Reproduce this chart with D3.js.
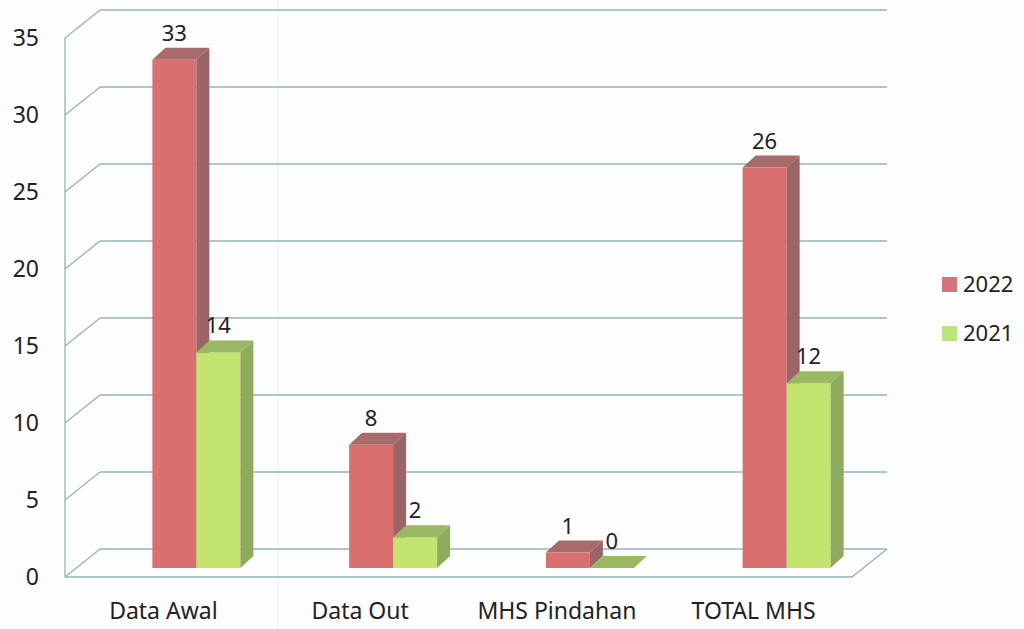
<!DOCTYPE html>
<html>
<head>
	<meta charset="utf-8">
	<title>Data Mahasiswa</title>
	<script src="https://d3js.org/d3.v7.min.js"></script>
	<style>
		body { margin: 0; background: #fdfdfd; }
		text { font-family: "Noto Sans", "Open Sans", sans-serif; fill: #222; }
	</style>
</head>
<body>
<script>
	// data
	var categories = ["Data Awal", "Data Out", "MHS Pindahan", "TOTAL MHS"];
	var series = ["2022", "2021"];
	var values2022 = [33, 8, 1, 26];
	var values2021 = [14, 2, 0, 12];
	var yTicks = [0, 5, 10, 15, 20, 25, 30, 35];

	var width = 1024, height = 629;

	var colors = {
		"2022": { front: "#d9706f", side: "#9b6466", top: "#a86b6c", legend: "#d6737a" },
		"2021": { front: "#c3e56f", side: "#8fab5e", top: "#98b962", legend: "#bbe47d" }
	};

	var svg = d3.select("body").append("svg")
		.attr("width", width)
		.attr("height", height);

	// front plane of the box
	var y = d3.scaleLinear().domain([0, 35]).range([577, 38]);
	var x = d3.scaleBand().domain(categories).range([65, 852]);

	// depth offsets (back wall, bars)
	var back = { dx: 35, dy: -28 };
	var barFront = { dx: 0, dy: -9 };
	var barDepth = { dx: 13, dy: -12 };
	var barW = 44, barShift = 33;

	var grid = "#93b2ba";

	// faint scan line
	svg.append("line")
		.attr("x1", 278).attr("x2", 278).attr("y1", 0).attr("y2", height)
		.attr("stroke", "#ececec").attr("stroke-width", 1);

	// back wall gridlines + side wall diagonals
	var g = svg.append("g");
	yTicks.forEach(function(t) {
		g.append("line")
			.attr("x1", x.range()[0] + back.dx).attr("x2", x.range()[1] + back.dx)
			.attr("y1", y(t) + back.dy).attr("y2", y(t) + back.dy)
			.attr("stroke", grid).attr("stroke-width", 1.3);
		g.append("line")
			.attr("x1", x.range()[0]).attr("x2", x.range()[0] + back.dx)
			.attr("y1", y(t)).attr("y2", y(t) + back.dy)
			.attr("stroke", grid).attr("stroke-width", 1.3);
	});

	// left axis line
	g.append("line")
		.attr("x1", x.range()[0]).attr("x2", x.range()[0])
		.attr("y1", y(35)).attr("y2", y(0))
		.attr("stroke", grid).attr("stroke-width", 1.3);

	// floor front and right edge
	g.append("path")
		.attr("d", "M" + x.range()[0] + "," + y(0) +
			"L" + x.range()[1] + "," + y(0) +
			"L" + (x.range()[1] + back.dx) + "," + (y(0) + back.dy))
		.attr("fill", "none").attr("stroke", grid).attr("stroke-width", 1.3);

	// y tick labels
	svg.append("g").selectAll("text")
		.data(yTicks)
		.enter().append("text")
		.attr("x", 39)
		.attr("y", function(d) { return y(d); })
		.attr("dy", "0.35em")
		.attr("text-anchor", "end")
		.style("font-size", "23px")
		.text(function(d) { return d; });

	// bars
	function drawBar(cat, value, key, i) {
		var c = colors[key];
		var x0 = x(cat) + x.bandwidth() / 2 + barShift + (i - 1) * barW + barFront.dx;
		var x1 = x0 + barW;
		var yb = y(0) + barFront.dy;
		var yt = y(value) + barFront.dy;
		var dx = barDepth.dx, dy = barDepth.dy;
		var bar = svg.append("g");

		if (yb - yt > 0) {
			bar.append("rect")
				.attr("x", x0).attr("y", yt)
				.attr("width", barW).attr("height", yb - yt)
				.attr("fill", c.front);
			bar.append("path")
				.attr("d", "M" + x1 + "," + yt + "L" + (x1 + dx) + "," + (yt + dy) +
					"L" + (x1 + dx) + "," + (yb + dy) + "L" + x1 + "," + yb + "Z")
				.attr("fill", c.side);
		}
		bar.append("path")
			.attr("d", "M" + x0 + "," + yt + "L" + (x0 + dx) + "," + (yt + dy) +
				"L" + (x1 + dx) + "," + (yt + dy) + "L" + x1 + "," + yt + "Z")
			.attr("fill", c.top);

		bar.append("text")
			.attr("x", (x0 + x1) / 2)
			.attr("y", yt - 19)
			.attr("text-anchor", "middle")
			.style("font-size", "22px")
			.text(value);
	}

	categories.forEach(function(cat, j) {
		drawBar(cat, values2022[j], "2022", 0);
		drawBar(cat, values2021[j], "2021", 1);
	});

	// category labels
	svg.append("g").selectAll("text")
		.data(categories)
		.enter().append("text")
		.attr("x", function(d) { return x(d) + x.bandwidth() / 2; })
		.attr("y", 619)
		.attr("text-anchor", "middle")
		.style("font-size", "23px")
		.text(function(d) { return d; });

	// legend
	var legend = svg.append("g").selectAll("g")
		.data(series)
		.enter().append("g")
		.attr("transform", function(d, i) { return "translate(942," + (277 + i * 49) + ")"; });

	legend.append("rect")
		.attr("width", 15).attr("height", 15)
		.attr("fill", function(d) { return colors[d].legend; });

	legend.append("text")
		.attr("x", 21).attr("y", 15)
		.style("font-size", "22px")
		.text(function(d) { return d; });
</script>
</body>
</html>
